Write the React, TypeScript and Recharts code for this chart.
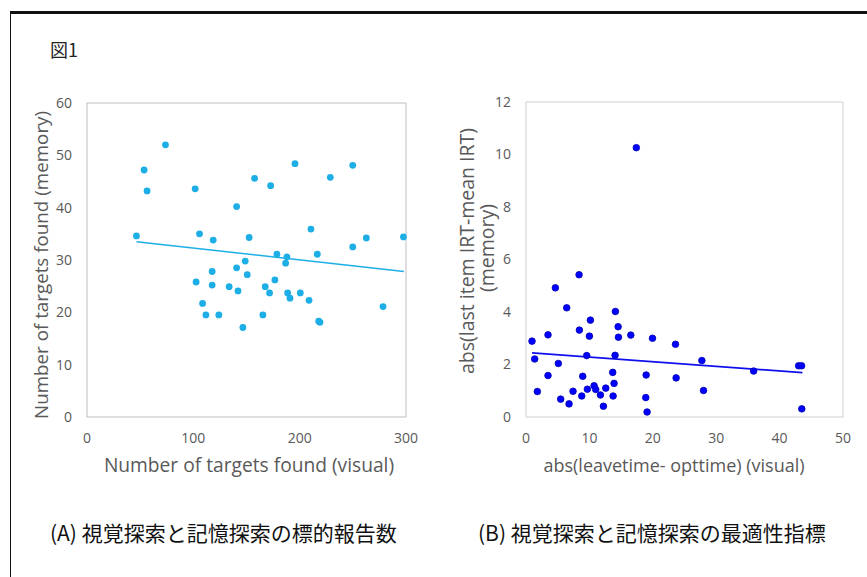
import React from 'react';
import { ScatterChart, Scatter, XAxis, YAxis, ReferenceArea } from 'recharts';

// ---------- Panel A data ----------
const visualFound = [46.5, 53.7, 56.5, 73.8, 101.7, 105.8, 118.7, 140.7, 152.5, 157.6, 172.7, 195.6, 210.6, 228.8, 249.9, 262.7, 297.6, 249.9, 216.6, 178.6, 188.0, 186.8, 148.8, 140.7, 117.7, 150.7, 102.6, 117.7, 133.7, 142.0, 167.6, 176.7, 171.7, 188.7, 190.9, 200.6, 208.8, 108.7, 111.8, 124.0, 165.4, 146.6, 217.9, 219.1, 278.4];
const memoryFound = [34.6, 47.2, 43.2, 52.0, 43.6, 35.0, 33.8, 40.2, 34.3, 45.6, 44.2, 48.4, 35.9, 45.8, 48.1, 34.2, 34.4, 32.5, 31.1, 31.1, 30.6, 29.4, 29.8, 28.5, 27.8, 27.2, 25.8, 25.2, 24.9, 24.1, 24.9, 26.2, 23.7, 23.7, 22.7, 23.7, 22.3, 21.7, 19.5, 19.5, 19.5, 17.1, 18.3, 18.1, 21.1];
const trendAX = [46.5, 298];
const trendAY = [33.5, 27.8];
const ticksAX = [0, 100, 200, 300];
const ticksAY = [0, 10, 20, 30, 40, 50, 60];

// ---------- Panel B data ----------
const leaveDiff = [0.95, 1.37, 1.79, 3.47, 3.47, 4.63, 5.1, 5.47, 6.42, 6.79, 7.42, 8.37, 8.42, 8.79, 8.95, 9.58, 9.68, 10.0, 10.16, 10.74, 11.0, 11.74, 12.21, 12.58, 13.68, 13.74, 13.89, 14.05, 14.1, 14.53, 14.58, 16.53, 18.89, 18.95, 19.1, 19.95, 23.58, 23.68, 27.74, 28.0, 35.9, 43.0, 43.47, 43.5, 17.4];
const irtDiff = [2.89, 2.21, 0.97, 3.13, 1.58, 4.92, 2.04, 0.68, 4.16, 0.5, 0.98, 5.42, 3.31, 0.8, 1.55, 2.34, 1.06, 3.08, 3.69, 1.19, 1.05, 0.84, 0.41, 1.1, 1.7, 0.8, 1.28, 2.35, 4.02, 3.44, 3.04, 3.12, 0.74, 1.6, 0.19, 3.0, 2.77, 1.49, 2.15, 1.01, 1.75, 1.95, 1.95, 0.31, 10.26];
const trendBX = [0.95, 43.6];
const trendBY = [2.44, 1.69];
const ticksBX = [0, 10, 20, 30, 40, 50];
const ticksBY = [0, 2, 4, 6, 8, 10, 12];

const zip = (xs: number[], ys: number[]) => xs.map((x, i) => ({ x, y: ys[i] }));

const pointsA = zip(visualFound, memoryFound);
const lineA = zip(trendAX, trendAY);
const pointsB = zip(leaveDiff, irtDiff);
const lineB = zip(trendBX, trendBY);

const AXIS_GRAY = '#595959';
const FONT = '"Open Sans", "Noto Sans", sans-serif';
const CJK = '"Noto Sans CJK JP", "Noto Sans", sans-serif';
const COLOR_A = '#1EAEE6';
const COLOR_B = '#0000FF';

const tickStyle = { fontSize: 14, fill: AXIS_GRAY, fontFamily: FONT };

const DotA = (p: any) => <circle cx={p.cx} cy={p.cy} r={3.4} fill={COLOR_A} />;
const DotB = (p: any) => <circle cx={p.cx} cy={p.cy} r={3.3} fill={COLOR_B} stroke="#0000B0" strokeWidth={0.8} />;
const NoDot = () => <g />;

const abs = (s: React.CSSProperties): React.CSSProperties => ({ position: 'absolute', whiteSpace: 'nowrap', ...s });

export default function App() {
  return (
    <div style={{ position: 'absolute', left: 0, top: 0, width: 867, height: 577, background: '#fff', overflow: 'hidden' }}>
      {/* frame */}
      <div style={abs({ left: 10, top: 11, width: 870, height: 600, borderTop: '3px solid #111', borderLeft: '1px solid #111' })} />

      <div style={abs({ left: 50, top: 36, fontFamily: CJK, fontSize: 18, color: '#222', lineHeight: '26px' })}>図1</div>

      {/* Panel A */}
      <div style={abs({ left: 0, top: 0, width: 430, height: 480 })}>
        <ScatterChart width={430} height={480} margin={{ top: 103, right: 24, bottom: 33, left: 37 }}>
          <XAxis type="number" dataKey="x" domain={[0, 300]} ticks={ticksAX} axisLine={false} tickLine={false} tickSize={0} tickMargin={16} tick={tickStyle} height={30} />
          <YAxis type="number" dataKey="y" domain={[0, 60]} ticks={ticksAY} axisLine={false} tickLine={false} tickSize={0} tickMargin={15} tick={tickStyle} width={50} />
          <ReferenceArea x1={0} x2={300} y1={0} y2={60} fill="none" fillOpacity={0} stroke="#BFBFBF" strokeWidth={1} />
          <Scatter data={lineA} line={{ stroke: COLOR_A, strokeWidth: 1.6 }} shape={NoDot} isAnimationActive={false} legendType="none" />
          <Scatter data={pointsA} fill={COLOR_A} shape={DotA} isAnimationActive={false} />
        </ScatterChart>
      </div>
      <div style={abs({ left: 41, top: 265, fontFamily: FONT, fontSize: 18.8, color: AXIS_GRAY, transform: 'translate(-50%, -50%) rotate(-90deg)', lineHeight: '22px' })}>
        Number of targets found (memory)
      </div>
      <div style={abs({ left: 249, top: 465, fontFamily: FONT, fontSize: 19.2, color: AXIS_GRAY, transform: 'translate(-50%, -50%)', lineHeight: '22px' })}>
        Number of targets found (visual)
      </div>

      {/* Panel B */}
      <div style={abs({ left: 440, top: 0, width: 420, height: 480 })}>
        <ScatterChart width={420} height={480} margin={{ top: 102, right: 17, bottom: 33, left: 36 }}>
          <XAxis type="number" dataKey="x" domain={[0, 50]} ticks={ticksBX} axisLine={false} tickLine={false} tickSize={0} tickMargin={16} tick={tickStyle} height={30} />
          <YAxis type="number" dataKey="y" domain={[0, 12]} ticks={ticksBY} axisLine={false} tickLine={false} tickSize={0} tickMargin={15} tick={tickStyle} width={50} />
          <ReferenceArea x1={0} x2={50} y1={0} y2={12} fill="none" fillOpacity={0} stroke="#D0D0D0" strokeWidth={1} />
          <Scatter data={lineB} line={{ stroke: '#1010EE', strokeWidth: 1.8 }} shape={NoDot} isAnimationActive={false} legendType="none" />
          <Scatter data={pointsB} fill={COLOR_B} shape={DotB} isAnimationActive={false} />
        </ScatterChart>
      </div>
      <div style={abs({ left: 467, top: 251, fontFamily: FONT, fontSize: 19.5, color: AXIS_GRAY, transform: 'translate(-50%, -50%) rotate(-90deg)', lineHeight: '22px' })}>
        abs(last item IRT-mean IRT)
      </div>
      <div style={abs({ left: 487, top: 248, fontFamily: FONT, fontSize: 19.5, color: AXIS_GRAY, transform: 'translate(-50%, -50%) rotate(-90deg)', lineHeight: '22px' })}>
        (memory)
      </div>
      <div style={abs({ left: 674, top: 465, fontFamily: FONT, fontSize: 18, color: AXIS_GRAY, transform: 'translate(-50%, -50%)', lineHeight: '22px' })}>
        abs(leavetime- opttime) (visual)
      </div>

      {/* captions */}
      <div style={abs({ left: 50, top: 518, fontFamily: CJK, fontSize: 21, color: '#111', lineHeight: '28px' })}>(A) 視覚探索と記憶探索の標的報告数</div>
      <div style={abs({ left: 478, top: 518, fontFamily: CJK, fontSize: 21, color: '#111', lineHeight: '28px' })}>(B) 視覚探索と記憶探索の最適性指標</div>
    </div>
  );
}
